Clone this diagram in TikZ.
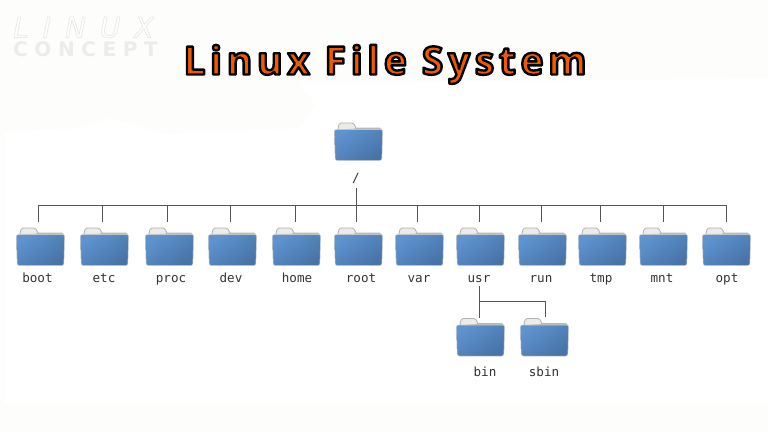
\documentclass[tikz,border=0pt]{standalone}
\usepackage{fontspec}
\usetikzlibrary{positioning}
\newfontfamily\titlefont[LetterSpace=12]{Open Sans Bold}
\newfontfamily\labelfont{DejaVu Sans Mono}
\newfontfamily\marktopfont[LetterSpace=50]{DejaVu Sans Oblique}
\newfontfamily\markbottomfont[LetterSpace=33]{DejaVu Sans Bold}
\definecolor{paper}{HTML}{FDFDFB}
\definecolor{folderlight}{HTML}{5E93CE}
\definecolor{folderdark}{HTML}{4873A8}
\definecolor{foldertab}{HTML}{EDEBE6}
\definecolor{titleorange}{HTML}{F05A00}
\definecolor{linkgray}{HTML}{555555}
\definecolor{markgray}{HTML}{ECECEA}
% outlined text: width, stroke colour (rgb), text
\newcommand{\strokedtext}[3]{\special{pdf:code #2 RG #1 w 1 j 2 Tr}#3\special{pdf:code 0 Tr}}
\tikzset{
  folderbox/.style={minimum width=49pt,minimum height=39pt,inner sep=0pt,outer sep=0pt,
    path picture={
      \draw[fill=foldertab,draw=gray!60,line width=.8pt,rounded corners=1.5pt]
        ([xshift=3.5pt,yshift=-8pt]path picture bounding box.north west) -- +(2,-7) -- +(16,-7) -- +(19,-1) -- cycle;
      \fill[gray!55] ([xshift=21pt,yshift=-5.5pt]path picture bounding box.north west) -- ([xshift=-3pt,yshift=-5.5pt]path picture bounding box.north east) -- ([xshift=-1pt,yshift=-8pt]path picture bounding box.north east) -- ([xshift=21pt,yshift=-8pt]path picture bounding box.north west) -- cycle;
      \shade[left color=folderlight,right color=folderdark,shading angle=35,draw=gray!35,line width=.5pt,rounded corners=2pt]
        ([yshift=-7.5pt,xshift=.3pt]path picture bounding box.north west) -- ([yshift=-7.5pt,xshift=-.3pt]path picture bounding box.north east) -- ([xshift=-1.2pt,yshift=.5pt]path picture bounding box.south east) -- ([xshift=1.2pt,yshift=.5pt]path picture bounding box.south west) -- cycle;
    }},
  folderlabel/.style={font=\labelfont\fontsize{12.6}{14}\selectfont,text=black!80,inner sep=0pt,anchor=base},
  linkline/.style={draw=linkgray,line width=1pt}
}
\begin{document}
\begin{tikzpicture}[x=1pt,y=-1pt]
\useasboundingbox (0,0) rectangle (768,432);
\fill[paper] (0,0) rectangle (768,432);
\fill[white] (5,132) -- (80,128) -- (110,118) -- (165,134) -- (300,128) -- (315,105) -- (300,84) -- (768,78) -- (768,405) -- (5,405) -- cycle;
% watermark
\node[text=white,font=\marktopfont\fontsize{28}{29}\selectfont,inner sep=0pt,anchor=base west] (marktop) at (13,37.5) {\strokedtext{.7}{.91 .91 .90}{LINUX}};
\node[text=markgray,font=\markbottomfont\fontsize{20}{21}\selectfont,inner sep=0pt,anchor=base west] (markbottom) at (13,56) {CONCEPT};
% title
\node[text=titleorange,font=\titlefont\fontsize{39}{44}\selectfont,inner sep=0pt,anchor=base] (title) at (385,74.5) {\strokedtext{2.4}{0 0 0}{Linux File System}};
% folders
\node[folderbox] (rootdir) at (358.5,141.5) {};
\node[folderlabel] (rootdirlabel) at (356,182) {/};
\coordinate (busroot) at (356,205);
\draw[linkline] (356,188) coordinate (rootdirend) -- (busroot);
\foreach \name/\xleft/\xdrop/\xlabel in {boot/16/38/37.5,etc/80/102/104,proc/145/167/171,dev/208/230/231,home/272/295/297,root/334/356/361,var/395/417/419,usr/456/479/479,run/518/541/541,tmp/578/600/601,mnt/639/663/662,opt/702/726/727}{
  \node[folderbox] (\name) at (\xleft+24.5,246.5) {};
  \node[folderlabel] (\name label) at (\xlabel,282) {\name};
  \coordinate (bus\name) at (\xdrop,205);
  \draw[linkline,shorten >=5pt] (bus\name) -- (bus\name |- \name.north);
}
\draw[linkline] (busboot) -- (busopt);
% usr children
\node[folderbox] (bin) at (480.5,337) {};
\node[folderbox] (sbin) at (544.5,337) {};
\node[folderlabel] (binlabel) at (485,376) {bin};
\node[folderlabel] (sbinlabel) at (544,376) {sbin};
\coordinate (usrend) at (479,286);
\coordinate (usrbranch) at (479,301);
\draw[linkline] (usrend) -- (usrend |- bin.north);
\draw[linkline] (usrbranch) -| (545,317);
\end{tikzpicture}
\end{document}
